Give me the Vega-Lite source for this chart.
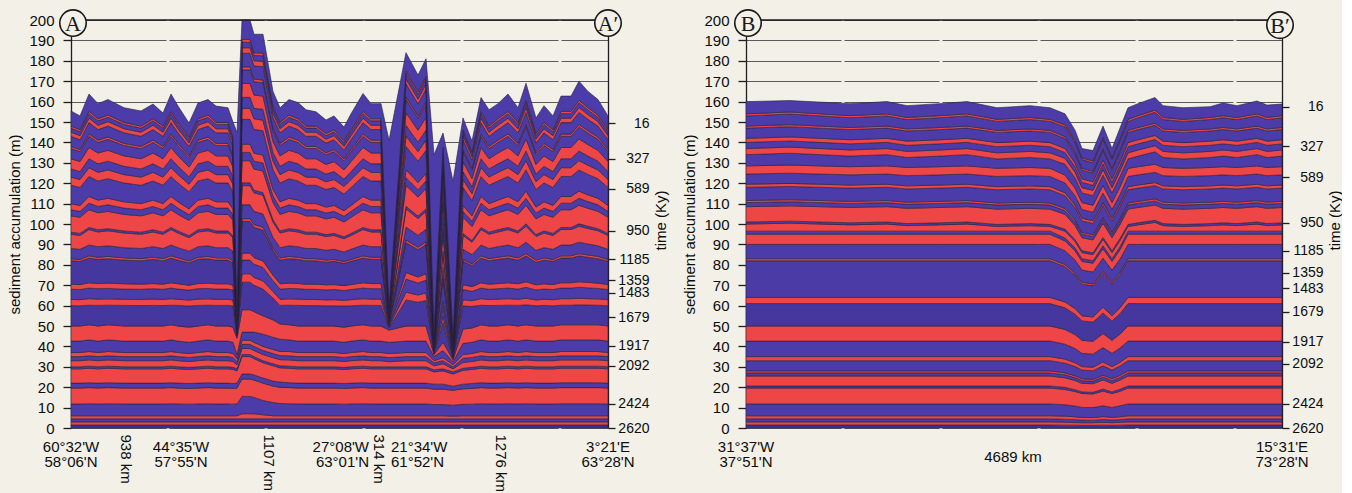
{
  "$schema": "https://vega.github.io/schema/vega-lite/v6.json",
  "background": "#f2f0e7",
  "padding": {"left": 7, "top": 6, "right": 0, "bottom": 0},
  "config": {
    "view": {"stroke": null},
    "font": "Liberation Sans",
    "axis": {"labelFont": "Liberation Sans", "titleFont": "Liberation Sans", "labelFontSize": 15, "titleFontSize": 15, "titleFontWeight": "normal", "labelColor": "#0d0d0d", "titleColor": "#0d0d0d", "domainColor": "#1e1e1e", "tickColor": "#1e1e1e", "domainWidth": 1.3, "tickWidth": 1.3}
  },
  "datasets": {
    "A": [
      {"x":0,"h":[0,1.5,3,4.5,6,11.8,19.6,22,29,30,33,35,37,42.6,50,60,63,68,70.5,82,83,88,95,96,104,107,110,119,123,127,132,137,138,143,145,147,148,155.4]},
      {"x":9,"h":[0,1.5,3,4.5,6,11.8,19.6,22,29,30,33,35,37,42.6,50,59.9,62.9,67.9,70.3,81.7,82.6,87.6,94.4,95.4,103.3,106.2,109.1,117.9,121.8,125.7,130.6,135.5,136.5,141.3,143.3,145.2,146.2,153]},
      {"x":18,"h":[0,1.5,3,4.5,6,11.9,19.8,22.2,29.3,30.3,33.4,35.4,37.5,43.2,50.6,60.2,63.4,68.6,71.2,83.3,84.4,89.7,97.3,98.3,107,110.2,113.5,123.3,127.6,132,137.5,143,144.1,149.7,151.9,154.1,155.2,163.7]},
      {"x":27,"h":[0,1.5,3,4.5,6,11.8,19.6,22,29,30,33,35,37,42.6,50,60.1,63.2,68.3,70.8,82.7,83.7,88.9,96.1,97.2,105.5,108.6,111.7,121.1,125.3,129.5,134.8,140,141.1,146.3,148.4,150.6,151.6,159]},
      {"x":37,"h":[0,1.5,3,4.5,6,11.9,19.8,22.2,29.3,30.3,33.4,35.4,37.5,43.2,50.6,60.2,63.3,68.4,71,83,84.1,89.3,96.7,97.7,106.2,109.4,112.6,122.2,126.5,130.8,136.1,141.5,142.6,148,150.2,152.3,153.4,161]},
      {"x":53,"h":[0,1.5,3,4.5,6,11.8,19.6,22,29,30,33,35,37,42.6,50,60.1,63.1,68.1,70.7,82.3,83.4,88.4,95.6,96.6,104.7,107.8,110.9,120.1,124.2,128.3,133.4,138.5,139.5,144.7,146.7,148.8,149.8,157]},
      {"x":70,"h":[0,1.5,3,4.5,6,11.8,19.6,22,29,30,33,35,37,42.6,50,60,63,68,70.5,82,83,88,95,96,104,107,110,119,123,127,132,137,138,143,145,147,148,155.4]},
      {"x":82,"h":[0,1.5,3,4.5,6,11.8,19.6,22,29,30,33,35,37,42.6,50,60.1,63.2,68.3,70.8,82.7,83.7,88.9,96.1,97.2,105.5,108.6,111.7,121.1,125.3,129.5,134.8,140,141.1,146.3,148.4,150.6,151.6,158.8]},
      {"x":92,"h":[0,1.5,3,4.5,6,11.8,19.6,22,29,30,33,35,37,42.6,50,60,63,68,70.5,82,83,88,95,96,104,107,110,119,123,127,132,137,138,143,145,147,148,154.4]},
      {"x":100,"h":[0,1.5,3,4.5,6,11.9,19.8,22.2,29.3,30.3,33.4,35.4,37.5,43.2,50.6,60.2,63.4,68.6,71.2,83.3,84.4,89.7,97.3,98.3,107,110.2,113.5,123.3,127.6,132,137.5,143,144.1,149.7,151.9,154.1,155.2,163.7]},
      {"x":107,"h":[0,1.5,3,4.5,6,11.8,19.6,22,29,30,33,35,37,42.6,50,60.1,63.1,68.1,70.7,82.3,83.4,88.4,95.6,96.6,104.7,107.8,110.9,120.1,124.2,128.3,133.4,138.5,139.5,144.7,146.7,148.8,149.8,157.8]},
      {"x":118,"h":[0,1.5,3,4.5,6,11.7,19.4,21.8,28.7,29.7,32.6,34.6,36.5,42,49.4,59.8,62.7,67.6,70,81,81.9,86.7,93.3,94.3,101.8,104.6,107.4,115.8,119.5,123.2,127.9,132.5,133.4,138,139.8,141.7,142.6,149.5]},
      {"x":127,"h":[0,1.5,3,4.5,6,11.8,19.6,22,29,30,33,35,37,42.6,50,60.1,63.2,68.3,70.8,82.7,83.7,88.9,96.1,97.2,105.5,108.6,111.7,121.1,125.3,129.5,134.8,140,141.1,146.3,148.4,150.6,151.6,159.3]},
      {"x":137,"h":[0,1.5,3,4.5,6,11.9,19.8,22.2,29.3,30.3,33.4,35.4,37.5,43.2,50.6,60.2,63.3,68.4,71,83,84.1,89.3,96.7,97.7,106.2,109.4,112.6,122.2,126.5,130.8,136.1,141.5,142.6,148,150.2,152.3,153.4,161]},
      {"x":145,"h":[0,1.5,3,4.5,6,11.8,19.6,22,29,30,33,35,37,42.6,50,60.1,63.1,68.1,70.7,82.3,83.4,88.4,95.6,96.6,104.7,107.8,110.9,120.1,124.2,128.3,133.4,138.5,139.5,144.7,146.7,148.8,149.8,157.8]},
      {"x":157,"h":[0,1.5,3,4.5,6,11.8,19.6,22,29,30,33,35,37,42.6,50,60.1,63.1,68.1,70.7,82.3,83.4,88.4,95.6,96.6,104.7,107.8,110.9,120.1,124.2,128.3,133.4,138.5,139.5,144.7,146.7,148.8,149.8,157]},
      {"x":162,"h":[0,1.5,3,4.5,6,11.7,19.4,21.8,28.7,29.7,32.6,34.6,36.5,42,49.4,59.8,62.7,67.6,70,81,81.9,86.7,93.3,94.3,101.8,104.6,107.4,115.8,119.5,123.2,127.9,132.5,133.4,138,139.8,141.7,142.6,150]},
      {"x":166,"h":[0,1.5,3,4.5,6,11.8,19.6,22,28,29,31,32.5,34,36,44,45,45.5,46,46.5,47,47.5,48,48.5,49,49.5,50,50.5,51,51.5,52,52.5,53,53.5,54,54.5,55,55.5,145]},
      {"x":171,"h":[0,1.5,3,4.5,7,15.5,24,26.5,35,36,39,41,43,47,58,71.5,75.6,82.3,85.7,101.3,102.6,109.4,118.8,120.2,131,135.1,139.1,151.3,156.7,162.1,168.9,175.6,177,183.7,186.4,189.1,190.5,200]},
      {"x":179,"h":[0,1.5,3,4.5,7,15.5,24,26.5,35,36,39,41,43,47,58,71.5,75.6,82.3,85.7,101.3,102.6,109.4,118.8,120.2,131,135.1,139.1,151.3,156.7,162.1,168.9,175.6,177,183.7,186.4,189.1,190.5,200]},
      {"x":183,"h":[0,1.5,3,4.5,7,15,23.5,26,34,35,38,40,42,47,57,70,73.8,80.3,83.5,98.4,99.7,106.2,115.3,116.6,126.9,130.8,134.7,146.4,151.6,156.7,163.2,169.7,171,177.4,180,182.6,183.9,193]},
      {"x":192,"h":[0,1.5,3,4.5,6.5,13.5,22,24.5,32,33,36,38,40,46,55,68.1,72.1,78.7,81.9,97,98.4,104.9,114.1,115.4,126,129.9,133.8,145.7,150.9,156.2,162.7,169.3,170.6,177.2,179.8,182.5,183.8,193]},
      {"x":202,"h":[0,1.5,3,4.5,6,12.5,20.5,23,30.5,31.5,34.5,36.5,38.5,44.5,53,63.7,66.9,72.2,74.9,87.1,88.2,93.5,101,102.1,110.6,113.8,117,126.6,130.9,135.1,140.5,145.8,146.9,152.2,154.3,156.5,157.5,165]},
      {"x":209,"h":[0,1.5,3,4.5,6,12,20,22.5,29.5,30.5,33.5,35.5,37.5,43.5,51,60.1,63.1,68.1,70.7,82.3,83.4,88.4,95.6,96.6,104.7,107.8,110.9,120.1,124.2,128.3,133.4,138.5,139.5,144.7,146.7,148.8,149.8,157]},
      {"x":218,"h":[0,1.5,3,4.5,6,11.9,19.8,22.2,29.3,30.3,33.4,35.4,37.5,43.2,50.6,60.2,63.3,68.4,71,83,84.1,89.3,96.7,97.7,106.2,109.4,112.6,122.2,126.5,130.8,136.1,141.5,142.6,148,150.2,152.3,153.4,161]},
      {"x":227,"h":[0,1.5,3,4.5,6,11.8,19.6,22,29,30,33,35,37,42.6,50,60.1,63.2,68.3,70.8,82.7,83.7,88.9,96.1,97.2,105.5,108.6,111.7,121.1,125.3,129.5,134.8,140,141.1,146.3,148.4,150.6,151.6,159.5]},
      {"x":235,"h":[0,1.5,3,4.5,6,11.8,19.6,22,29,30,33,35,37,42.6,50,60,63,68,70.5,82,83,88,95,96,104,107,110,119,123,127,132,137,138,143,145,147,148,156]},
      {"x":245,"h":[0,1.5,3,4.5,6,11.8,19.6,22,29,30,33,35,37,42.6,50,60,63,68,70.5,82,83,88,95,96,104,107,110,119,123,127,132,137,138,143,145,147,148,155]},
      {"x":255,"h":[0,1.5,3,4.5,6,11.8,19.6,22,29,30,33,35,37,42.6,50,59.9,62.8,67.7,70.2,81.3,82.3,87.1,93.9,94.8,102.5,105.4,108.3,116.9,120.7,124.5,129.2,134,134.9,139.7,141.6,143.4,144.4,151]},
      {"x":263,"h":[0,1.5,3,4.5,6,11.8,19.6,22,29,30,33,35,37,42.6,50,59.9,62.9,67.9,70.3,81.7,82.6,87.6,94.4,95.4,103.3,106.2,109.1,117.9,121.8,125.7,130.6,135.5,136.5,141.3,143.3,145.2,146.2,153]},
      {"x":273,"h":[0,1.5,3,4.5,6,11.7,19.4,21.8,28.7,29.7,32.6,34.6,36.5,42,49.4,59.8,62.6,67.4,69.8,80.7,81.6,86.3,92.8,93.7,101,103.8,106.5,114.7,118.4,122,126.5,131,131.9,136.3,138.1,139.9,140.8,147.5]},
      {"x":280,"h":[0,1.5,3,4.5,6,11.8,19.6,22,29,30,33,35,37,42.6,50,59.9,62.9,67.9,70.3,81.7,82.6,87.6,94.4,95.4,103.3,106.2,109.1,117.9,121.8,125.7,130.6,135.5,136.5,141.3,143.3,145.2,146.2,154]},
      {"x":292,"h":[0,1.5,3,4.5,6,11.9,19.8,22.2,29.3,30.3,33.4,35.4,37.5,43.2,50.6,60.2,63.4,68.6,71.2,83.3,84.4,89.7,97.3,98.3,107,110.2,113.5,123.3,127.6,132,137.5,143,144.1,149.7,151.9,154.1,155.2,164]},
      {"x":300,"h":[0,1.5,3,4.5,6,11.8,19.6,22,29,30,33,35,37,42.6,50,60.1,63.2,68.3,70.8,82.7,83.7,88.9,96.1,97.2,105.5,108.6,111.7,121.1,125.3,129.5,134.8,140,141.1,146.3,148.4,150.6,151.6,159]},
      {"x":310,"h":[0,1.5,3,4.5,6,11.8,19.6,22,29,30,33,35,37,42.6,50,60.1,63.2,68.3,70.8,82.7,83.7,88.9,96.1,97.2,105.5,108.6,111.7,121.1,125.3,129.5,134.8,140,141.1,146.3,148.4,150.6,151.6,159]},
      {"x":318,"h":[0,1.5,3,4.5,6,11.8,19.6,22,29,30,32.5,34.5,36.5,42,48,49,49.5,50,50.5,51,51.5,52,52.5,53,53.5,54,54.5,55,55.5,56,56.5,57,57.5,58,58.5,59,59.5,141]},
      {"x":335,"h":[0,1.5,3,4.5,6,11.8,19.6,22,29,30,33,35,37,42.6,50,62.8,66.6,73,76.2,90.8,92.1,98.5,107.4,108.7,118.9,122.7,126.6,138,143.1,148.3,154.6,161,162.3,168.7,171.2,173.8,175,184]},
      {"x":347,"h":[0,1.5,3,4.5,6,11.8,19.6,22,29,30,33,35,37,42.6,50,61.7,65.2,71.1,74,87.5,88.6,94.5,102.7,103.9,113.2,116.8,120.3,130.8,135.5,140.2,146,151.9,153,158.9,161.2,163.6,164.8,173]},
      {"x":355,"h":[0,1.5,3,4.5,6,11.8,19.6,22,29,30,33,35,37,42.6,50,62.5,66.2,72.5,75.6,89.9,91.2,97.4,106.2,107.4,117.4,121.1,124.9,136.1,141.1,146.1,152.3,158.6,159.8,166.1,168.6,171.1,172.3,181]},
      {"x":363,"h":[0,1.5,3,4.5,6,11.5,19,21.5,27.5,28.5,30.5,32,33,35,36,36.5,37,37.5,38,38.5,39,39.5,40,40.5,41,41.5,42,42.5,43,43.5,44,44.5,45,45.5,46,46.5,47,134]},
      {"x":372,"h":[0,1.5,3,4.5,6,11.5,19,21.5,28,29,31.5,33,34.5,38,42,51.8,54.7,59.6,62,73.3,74.2,79.1,86,86.9,94.8,97.7,100.6,109.4,113.3,117.2,122.1,127,128,132.8,134.8,136.7,137.7,144.6]},
      {"x":382,"h":[0,1.5,3,4.5,5.8,11.2,18.5,20.5,26.5,27.5,29,30,31,32.5,33.5,34,34.5,35,35.5,36,36.5,37,37.5,38,38.5,39,39.5,40,40.5,41,41.5,42,42.5,43,43.5,44,44.5,121]},
      {"x":392,"h":[0,1.5,3,4.5,6,11.6,19.2,21.5,28.3,29.3,32.2,34.2,36,41.5,48.5,59.9,62.9,67.9,70.3,81.7,82.6,87.6,94.4,95.4,103.3,106.2,109.1,117.9,121.8,125.7,130.6,135.5,136.5,141.3,143.3,145.2,146.2,152]},
      {"x":401,"h":[0,1.5,3,4.5,6,11.7,19.4,21.8,28.7,29.7,32.6,34.6,36.5,42,49,59.6,62.4,67,69.3,79.7,80.5,85,91.1,91.9,98.8,101.4,104,111.5,114.9,118.2,122.3,126.4,127.3,131.3,133,134.6,135.4,140.7]},
      {"x":410,"h":[0,1.5,3,4.5,6,11.9,19.8,22.2,29.3,30.3,33.4,35.4,37.5,43.2,50.6,60.2,63.4,68.6,71.2,83.3,84.4,89.7,97.3,98.3,107,110.2,113.5,123.3,127.6,132,137.5,143,144.1,149.7,151.9,154.1,155.2,162]},
      {"x":418,"h":[0,1.5,3,4.5,6,11.8,19.6,22,29,30,33,35,37,42.6,50,60,63,68,70.5,82,83,88,95,96,104,107,110,119,123,127,132,137,138,143,145,147,148,156]},
      {"x":427,"h":[0,1.5,3,4.5,6,11.8,19.6,22,29,30,33,35,37,42.6,50,60.1,63.2,68.3,70.8,82.7,83.7,88.9,96.1,97.2,105.5,108.6,111.7,121.1,125.3,129.5,134.8,140,141.1,146.3,148.4,150.6,151.6,159]},
      {"x":437,"h":[0,1.5,3,4.5,6,11.9,19.8,22.2,29.3,30.3,33.4,35.4,37.5,43.2,50.6,60.2,63.4,68.6,71.2,83.3,84.4,89.7,97.3,98.3,107,110.2,113.5,123.3,127.6,132,137.5,143,144.1,149.7,151.9,154.1,155.2,163.7]},
      {"x":447,"h":[0,1.5,3,4.5,6,11.8,19.6,22,29,30,33,35,37,42.6,50,60.1,63.1,68.1,70.7,82.3,83.4,88.4,95.6,96.6,104.7,107.8,110.9,120.1,124.2,128.3,133.4,138.5,139.5,144.7,146.7,148.8,149.8,157]},
      {"x":455,"h":[0,1.5,3,4.5,6,11.9,19.8,22.2,29.3,30.3,33.4,35.4,37.5,43.2,50.6,60.4,63.6,69,71.7,84.4,85.5,91.1,98.9,100.1,109.2,112.6,116.1,126.5,131.1,135.8,141.7,147.6,148.7,154.7,157.1,159.4,160.6,169]},
      {"x":465,"h":[0,1.5,3,4.5,6,11.8,19.6,22,29,30,33,35,37,42.6,50,59.9,62.8,67.7,70.2,81.3,82.3,87.1,93.9,94.8,102.5,105.4,108.3,116.9,120.7,124.5,129.2,134,134.9,139.7,141.6,143.4,144.4,152]},
      {"x":473,"h":[0,1.5,3,4.5,6,11.8,19.6,22,29,30,33,35,37,42.6,50,60.1,63.1,68.1,70.7,82.3,83.4,88.4,95.6,96.6,104.7,107.8,110.9,120.1,124.2,128.3,133.4,138.5,139.5,144.7,146.7,148.8,149.8,158]},
      {"x":482,"h":[0,1.5,3,4.5,6,11.8,19.6,22,29,30,33,35,37,42.6,50,59.9,62.9,67.9,70.3,81.7,82.6,87.6,94.4,95.4,103.3,106.2,109.1,117.9,121.8,125.7,130.6,135.5,136.5,141.3,143.3,145.2,146.2,153]},
      {"x":490,"h":[0,1.5,3,4.5,6,11.9,19.8,22.2,29.3,30.3,33.4,35.4,37.5,43.2,50.6,60.2,63.4,68.6,71.2,83.3,84.4,89.7,97.3,98.3,107,110.2,113.5,123.3,127.6,132,137.5,143,144.1,149.7,151.9,154.1,155.2,162.7]},
      {"x":500,"h":[0,1.5,3,4.5,6,11.9,19.8,22.2,29.3,30.3,33.4,35.4,37.5,43.2,50.6,60.2,63.4,68.6,71.2,83.3,84.4,89.7,97.3,98.3,107,110.2,113.5,123.3,127.6,132,137.5,143,144.1,149.7,151.9,154.1,155.2,162.7]},
      {"x":508,"h":[0,1.5,3,4.5,6,11.9,19.8,22.2,29.3,30.3,33.4,35.4,37.5,43.2,50.6,60.4,63.6,69,71.7,84.4,85.5,91.1,98.9,100.1,109.2,112.6,116.1,126.5,131.1,135.8,141.7,147.6,148.7,154.7,157.1,159.4,160.6,170]},
      {"x":517,"h":[0,1.5,3,4.5,6,11.9,19.8,22.2,29.3,30.3,33.4,35.4,37.5,43.2,50.6,60.3,63.4,68.7,71.4,83.7,84.8,90.2,97.8,98.9,107.7,111,114.3,124.3,128.8,133.3,138.9,144.6,145.7,151.3,153.6,155.9,157,165]},
      {"x":527,"h":[0,1.5,3,4.5,6,11.9,19.8,22.2,29.3,30.3,33.4,35.4,37.5,43.2,50.6,60.2,63.3,68.4,71,83,84.1,89.3,96.7,97.7,106.2,109.4,112.6,122.2,126.5,130.8,136.1,141.5,142.6,148,150.2,152.3,153.4,161]},
      {"x":537,"h":[0,1.5,3,4.5,6,11.8,19.6,22,29,30,33,35,37,42.6,50,59.9,62.9,67.9,70.3,81.7,82.6,87.6,94.4,95.4,103.3,106.2,109.1,117.9,121.8,125.7,130.6,135.5,136.5,141.3,143.3,145.2,146.2,153]}
    ],
    "B": [
      {"x":0,"h":[0,1.5,3,4.5,6,11.8,19.6,20.6,25.5,27,28,33,35,42.6,50,61,64,82,83,90,95,96.5,100,101,108.5,110.5,111.5,118,119.5,124.5,128.5,134,137,140,142,147,148,153,154,160]},
      {"x":44,"h":[0,1.5,3,4.5,6,11.8,19.6,20.6,25.5,27,28,33,35,42.6,50,61,64,82,83,90,95,96.5,100.4,101.4,108.9,110.9,111.9,118.4,119.9,124.9,128.9,134.7,137.7,140.7,142.7,147.7,148.7,153.9,154.9,160.5]},
      {"x":104,"h":[0,1.5,3,4.5,6,11.8,19.6,20.6,25.5,27,28,33,35,42.6,50,61,64,82,83,90,95,96.5,99.6,100.6,108.1,110.1,111.1,117.6,119.1,124.1,128.1,133.3,136.3,139.3,141.3,146.3,147.3,152.1,153.1,159]},
      {"x":141,"h":[0,1.5,3,4.5,6,11.8,19.6,20.6,25.5,27,28,33,35,42.6,50,61,64,82,83,90,95,96.5,100,101,108.5,110.5,111.5,118,119.5,124.5,128.5,134,137,140,142,147,148,153,154,160]},
      {"x":161,"h":[0,1.5,3,4.5,6,11.8,19.6,20.6,25.5,27,28,33,35,42.6,50,61,64,82,83,90,95,96.5,99.2,100.2,107.7,109.7,110.7,117.2,118.7,123.7,127.7,132.6,135.6,138.6,140.6,145.6,146.6,151.2,152.2,158]},
      {"x":194,"h":[0,1.5,3,4.5,6,11.8,19.6,20.6,25.5,27,28,33,35,42.6,50,61,64,82,83,90,95,96.5,99.6,100.6,108.1,110.1,111.1,117.6,119.1,124.1,128.1,133.3,136.3,139.3,141.3,146.3,147.3,152.1,153.1,159]},
      {"x":221,"h":[0,1.5,3,4.5,6,11.8,19.6,20.6,25.5,27,28,33,35,42.6,50,61,64,82,83,90,95,96.5,100,101,108.5,110.5,111.5,118,119.5,124.5,128.5,134,137,140,142,147,148,153,154,160]},
      {"x":251,"h":[0,1.5,3,4.5,6,11.8,19.6,20.6,25.5,27,28,33,35,42.6,50,61,64,82,83,90,95,96.5,98.8,99.8,107.3,109.3,110.3,116.8,118.3,123.3,127.3,131.9,134.9,137.9,139.9,144.9,145.9,150.3,151.3,157]},
      {"x":284,"h":[0,1.5,3,4.5,6,11.8,19.6,20.6,25.5,27,28,33,35,42.6,50,61,64,82,83,90,95,96.5,99.2,100.2,107.7,109.7,110.7,117.2,118.7,123.7,127.7,132.6,135.6,138.6,140.6,145.6,146.6,151.2,152.2,158]},
      {"x":304,"h":[0,1.5,3,4.5,6,11.8,19.6,20.6,25.5,27,28,33,35,42.6,50,61,64,82,83,90,95,96.5,98.8,99.8,107.3,109.3,110.3,116.8,118.3,123.3,127.3,131.9,134.9,137.9,139.9,144.9,145.9,150.3,151.3,157]},
      {"x":319,"h":[0,1.4,2.9,4.3,5.8,11.4,18.9,19.9,24.6,26.1,27,31.8,33.8,41.1,48.3,58.9,61.8,79.1,80.1,86.9,91.7,93.1,96.5,97.5,104.7,106.6,107.6,113.9,115.3,120.1,124,129.3,132.2,135.1,137,141.9,142.8,147.6,148.6,154]},
      {"x":329,"h":[0,1.4,2.7,4.1,5.5,10.8,17.9,18.8,23.3,24.7,25.6,30.2,32,39,45.8,55.8,58.6,75,75.9,82.4,86.9,88.3,91.5,92.4,99.3,101.1,102,108,109.3,113.9,117.6,122.6,125.4,128.1,129.9,134.5,135.4,140,140.9,146]},
      {"x":336,"h":[0,1.3,2.6,3.9,5.2,10.1,16.9,17.7,21.9,23.2,24.1,28.4,30.1,36.6,43,52.5,55,70.5,71.4,77.4,81.7,83,86,86.9,93.3,95,95.9,101.5,102.8,107.1,110.5,115.2,117.8,120.4,122.1,126.4,127.3,131.6,132.4,137]},
      {"x":347,"h":[0,1.3,2.6,3.8,5.1,10,16.7,17.5,21.7,23,23.8,28.1,29.8,36.2,42.5,51.9,54.4,69.7,70.6,76.5,80.8,82,85,85.9,92.2,93.9,94.8,100.3,101.6,105.8,109.2,113.9,116.5,119,120.7,125,125.8,130,130.9,136]},
      {"x":357,"h":[0,1.4,2.8,4.2,5.6,10.9,18.1,19.1,23.6,25,25.9,30.5,32.4,39.4,46.3,56.4,59.2,75.9,76.8,83.3,87.9,89.3,92.5,93.4,100.4,102.2,103.1,109.2,110.5,115.2,118.9,124,126.7,129.5,131.4,136,136.9,141.5,142.5,148]},
      {"x":366,"h":[0,1.3,2.6,3.9,5.2,10.1,16.9,17.7,21.9,23.2,24.1,28.4,30.1,36.6,43,52.5,55,70.5,71.4,77.4,81.7,83,86,86.9,93.3,95,95.9,101.5,102.8,107.1,110.5,115.2,117.8,120.4,122.1,126.4,127.3,131.6,132.4,137]},
      {"x":374,"h":[0,1.4,2.8,4.1,5.5,10.9,18,19,23.5,24.8,25.8,30.4,32.2,39.2,46,56.1,58.9,75.4,76.4,82.8,87.4,88.8,92,92.9,99.8,101.7,102.6,108.6,109.9,114.5,118.2,123.3,126,128.8,130.6,135.2,136.2,140.8,141.7,147]},
      {"x":382,"h":[0,1.5,3,4.5,6,11.8,19.6,20.6,25.5,27,28,33,35,42.6,50,61,64,82,83,90,95,96.5,98.8,99.8,107.3,109.3,110.3,116.8,118.3,123.3,127.3,131.9,134.9,137.9,139.9,144.9,145.9,150.3,151.3,157]},
      {"x":392,"h":[0,1.5,3,4.5,6,11.8,19.6,20.6,25.5,27,28,33,35,42.6,50,61,64,82,83,90,95,96.5,99.6,100.6,108.1,110.1,111.1,117.6,119.1,124.1,128.1,133.3,136.3,139.3,141.3,146.3,147.3,152.1,153.1,159]},
      {"x":409,"h":[0,1.5,3,4.5,6,11.8,19.6,20.6,25.5,27,28,33,35,42.6,50,61,64,82,83,90,95,96.5,100.8,101.8,109.3,111.3,112.3,118.8,120.3,125.3,129.3,135.4,138.4,141.4,143.4,148.4,149.4,154.8,155.8,162]},
      {"x":417,"h":[0,1.5,3,4.5,6,11.8,19.6,20.6,25.5,27,28,33,35,42.6,50,61,64,82,83,90,95,96.5,99.2,100.2,107.7,109.7,110.7,117.2,118.7,123.7,127.7,132.6,135.6,138.6,140.6,145.6,146.6,151.2,152.2,158]},
      {"x":437,"h":[0,1.5,3,4.5,6,11.8,19.6,20.6,25.5,27,28,33,35,42.6,50,61,64,82,83,90,95,96.5,98.8,99.8,107.3,109.3,110.3,116.8,118.3,123.3,127.3,131.9,134.9,137.9,139.9,144.9,145.9,150.3,151.3,157]},
      {"x":464,"h":[0,1.5,3,4.5,6,11.8,19.6,20.6,25.5,27,28,33,35,42.6,50,61,64,82,83,90,95,96.5,99.2,100.2,107.7,109.7,110.7,117.2,118.7,123.7,127.7,132.6,135.6,138.6,140.6,145.6,146.6,151.2,152.2,157.5]},
      {"x":477,"h":[0,1.5,3,4.5,6,11.8,19.6,20.6,25.5,27,28,33,35,42.6,50,61,64,82,83,90,95,96.5,99.6,100.6,108.1,110.1,111.1,117.6,119.1,124.1,128.1,133.3,136.3,139.3,141.3,146.3,147.3,152.1,153.1,159.3]},
      {"x":491,"h":[0,1.5,3,4.5,6,11.8,19.6,20.6,25.5,27,28,33,35,42.6,50,61,64,82,83,90,95,96.5,99.2,100.2,107.7,109.7,110.7,117.2,118.7,123.7,127.7,132.6,135.6,138.6,140.6,145.6,146.6,151.2,152.2,158]},
      {"x":511,"h":[0,1.5,3,4.5,6,11.8,19.6,20.6,25.5,27,28,33,35,42.6,50,61,64,82,83,90,95,96.5,100,101,108.5,110.5,111.5,118,119.5,124.5,128.5,134,137,140,142,147,148,153,154,160.3]},
      {"x":521,"h":[0,1.5,3,4.5,6,11.8,19.6,20.6,25.5,27,28,33,35,42.6,50,61,64,82,83,90,95,96.5,99.2,100.2,107.7,109.7,110.7,117.2,118.7,123.7,127.7,132.6,135.6,138.6,140.6,145.6,146.6,151.2,152.2,158.3]},
      {"x":536,"h":[0,1.5,3,4.5,6,11.8,19.6,20.6,25.5,27,28,33,35,42.6,50,61,64,82,83,90,95,96.5,99.6,100.6,108.1,110.1,111.1,117.6,119.1,124.1,128.1,133.3,136.3,139.3,141.3,146.3,147.3,152.1,153.1,158.8]}
    ]
  },
  "spacing": 14,
  "resolve": {"scale": {"x": "independent", "y": "independent", "color": "independent"}},
  "hconcat": [
    {
      "width": 537,
      "height": 408,
      "resolve": {"axis": {"y": "independent"}},
      "layer": [
        {
          "data": {"name": "A"},
          "transform": [
            {"flatten": ["h"]},
            {"window": [{"op": "row_number", "as": "i"}, {"op": "lag", "field": "h", "param": 1, "as": "h0"}], "groupby": ["x"]},
            {"filter": {"field": "h0", "valid": true}}
          ],
          "mark": {"type": "area", "stroke": "#2a2340", "strokeWidth": 0.7, "strokeOpacity": 0.9, "strokeJoin": "round", "interpolate": "linear"},
          "encoding": {
            "x": {"field": "x", "type": "quantitative", "scale": {"domain": [0, 537], "nice": false, "zero": false},
                  "axis": {"values": [0, 110, 292, 327, 537], "labels": false, "ticks": true, "tickSize": 6, "grid": false, "title": null, "domain": true}},
            "y": {"field": "h", "type": "quantitative", "scale": {"domain": [0, 200], "nice": false},
                  "axis": {"orient": "left", "values": [0,10,20,30,40,50,60,70,80,90,100,110,120,130,140,150,160,170,180,190,200], "grid": true, "gridDash": [95, 3], "gridColor": "#5a5a5a", "gridWidth": 1, "tickSize": 8, "labelPadding": 9, "labelOverlap": false, "labelFlush": false, "title": "sediment accumulation (m)", "titlePadding": 6}},
            "y2": {"field": "h0"},
            "color": {"field": "i", "type": "ordinal", "legend": null,
                      "scale": {"domain": [2,3,4,5,6,7,8,9,10,11,12,13,14,15,16,17,18,19,20,21,22,23,24,25,26,27,28,29,30,31,32,33,34,35,36,37,38],
                                "range": ["#3f3290","#ee4646","#4b3ca9","#ee4646","#4b3ca9","#ee4646","#4b3ca9","#ee4646","#4b3ca9","#ee4646","#4b3ca9","#ee4646","#4b3ca9","#ee4646","#45379e","#ee4646","#4b3ca9","#ee4646","#45379e","#ee4646","#4b3ca9","#ee4646","#4b3ca9","#ee4646","#4b3ca9","#ee4646","#4b3ca9","#ee4646","#4b3ca9","#ee4646","#4b3ca9","#ee4646","#4b3ca9","#ee4646","#4b3ca9","#ee4646","#4b3ca9"]}}
          }
        },
        {
          "data": {"values": [{"m":149.5,"k":"16"},{"m":131.9,"k":"327"},{"m":117.2,"k":"589"},{"m":96.6,"k":"950"},{"m":82.8,"k":"1185"},{"m":72.5,"k":"1359"},{"m":66.2,"k":"1483"},{"m":54.4,"k":"1679"},{"m":40.2,"k":"1917"},{"m":30.4,"k":"2092"},{"m":11.8,"k":"2424"},{"m":0,"k":"2620"}]},
          "mark": {"type": "tick", "opacity": 0},
          "encoding": {
            "y": {"field": "m", "type": "quantitative", "scale": {"domain": [0, 200], "nice": false},
                  "axis": {"orient": "right", "values": [149.5,131.9,117.2,96.6,82.8,72.5,66.2,54.4,40.2,30.4,11.8,0],
                           "labelExpr": "datum.value==149.5?'16':datum.value==131.9?'327':datum.value==117.2?'589':datum.value==96.6?'950':datum.value==82.8?'1185':datum.value==72.5?'1359':datum.value==66.2?'1483':datum.value==54.4?'1679':datum.value==40.2?'1917':datum.value==30.4?'2092':datum.value==11.8?'2424':'2620'",
                           "tickSize": 7, "labelFontSize": 14, "labelAlign": "right", "labelPadding": 34, "labelOverlap": false, "labelFlush": false, "grid": false, "title": "time (Ky)", "titleAngle": 270, "titleX": 52, "titleY": 200, "titleAlign": "center", "titleBaseline": "middle"}}
          }
        },
        {
          "data": {"values": [{"y": 200}]},
          "mark": {"type": "rule", "color": "#1a1a1a", "strokeWidth": 1.6},
          "encoding": {"y": {"field": "y", "type": "quantitative", "scale": {"domain": [0, 200], "nice": false}, "axis": null}}
        },
        {
          "data": {"values": [{"x": 2, "y": 198.5, "t": "A"}, {"x": 537, "y": 198.5, "t": "A′"}]},
          "mark": {"type": "point", "shape": "circle", "size": 700, "filled": true, "fill": "#f2f0e7", "stroke": "#1a1a1a", "strokeWidth": 1.6, "opacity": 1},
          "encoding": {
            "x": {"field": "x", "type": "quantitative", "scale": {"domain": [0, 537], "nice": false, "zero": false}, "axis": null},
            "y": {"field": "y", "type": "quantitative", "scale": {"domain": [0, 200], "nice": false}, "axis": null}
          }
        },
        {
          "data": {"values": [{"x": 2, "y": 198.5, "t": "A"}, {"x": 537, "y": 198.5, "t": "A′"}]},
          "mark": {"type": "text", "font": "Liberation Serif", "fontSize": 22, "align": "center", "baseline": "middle", "dy": 1, "color": "#1a1a1a"},
          "encoding": {
            "x": {"field": "x", "type": "quantitative", "scale": {"domain": [0, 537], "nice": false, "zero": false}, "axis": null},
            "y": {"field": "y", "type": "quantitative", "scale": {"domain": [0, 200], "nice": false}, "axis": null},
            "text": {"field": "t"}
          }
        },
        {
          "data": {"values": [{"x": 0, "y": -5.8, "t": "60°32'W\n58°06'N"}, {"x": 110, "y": -5.8, "t": "44°35'W\n57°55'N"}, {"x": 537, "y": -5.8, "t": "3°21'E\n63°28'N"}]},
          "mark": {"type": "text", "align": "center", "baseline": "top", "lineBreak": "\n", "lineHeight": 15, "fontSize": 15, "font": "Liberation Sans", "color": "#0d0d0d"},
          "encoding": {
            "x": {"field": "x", "type": "quantitative", "scale": {"domain": [0, 537], "nice": false, "zero": false}, "axis": null},
            "y": {"field": "y", "type": "quantitative", "scale": {"domain": [0, 200], "nice": false}, "axis": null},
            "text": {"field": "t"}
          }
        },
        {
          "data": {"values": [{"x": 298, "y": -5.8, "t": "27°08'W\n63°01'N"}]},
          "mark": {"type": "text", "align": "right", "baseline": "top", "lineBreak": "\n", "lineHeight": 15, "fontSize": 15, "font": "Liberation Sans", "color": "#0d0d0d"},
          "encoding": {
            "x": {"field": "x", "type": "quantitative", "scale": {"domain": [0, 537], "nice": false, "zero": false}, "axis": null},
            "y": {"field": "y", "type": "quantitative", "scale": {"domain": [0, 200], "nice": false}, "axis": null},
            "text": {"field": "t"}
          }
        },
        {
          "data": {"values": [{"x": 320, "y": -5.8, "t": "21°34'W\n61°52'N"}]},
          "mark": {"type": "text", "align": "left", "baseline": "top", "lineBreak": "\n", "lineHeight": 15, "fontSize": 15, "font": "Liberation Sans", "color": "#0d0d0d"},
          "encoding": {
            "x": {"field": "x", "type": "quantitative", "scale": {"domain": [0, 537], "nice": false, "zero": false}, "axis": null},
            "y": {"field": "y", "type": "quantitative", "scale": {"domain": [0, 200], "nice": false}, "axis": null},
            "text": {"field": "t"}
          }
        },
        {
          "data": {"values": [{"x": 55, "y": -3.2, "t": "938 km"}, {"x": 198, "y": -3.2, "t": "1107 km"}, {"x": 308, "y": -3.2, "t": "314 km"}, {"x": 430, "y": -3.2, "t": "1276 km"}]},
          "mark": {"type": "text", "angle": 90, "align": "left", "baseline": "middle", "fontSize": 15, "font": "Liberation Sans", "color": "#0d0d0d"},
          "encoding": {
            "x": {"field": "x", "type": "quantitative", "scale": {"domain": [0, 537], "nice": false, "zero": false}, "axis": null},
            "y": {"field": "y", "type": "quantitative", "scale": {"domain": [0, 200], "nice": false}, "axis": null},
            "text": {"field": "t"}
          }
        }
      ]
    },
    {
      "width": 536,
      "height": 408,
      "resolve": {"axis": {"y": "independent"}},
      "layer": [
        {
          "data": {"name": "B"},
          "transform": [
            {"flatten": ["h"]},
            {"window": [{"op": "row_number", "as": "i"}, {"op": "lag", "field": "h", "param": 1, "as": "h0"}], "groupby": ["x"]},
            {"filter": {"field": "h0", "valid": true}}
          ],
          "mark": {"type": "area", "stroke": "#2a2340", "strokeWidth": 0.7, "strokeOpacity": 0.9, "strokeJoin": "round", "interpolate": "linear"},
          "encoding": {
            "x": {"field": "x", "type": "quantitative", "scale": {"domain": [0, 536], "nice": false, "zero": false},
                  "axis": {"values": [0, 536], "labels": false, "ticks": true, "tickSize": 6, "grid": false, "title": null, "domain": true}},
            "y": {"field": "h", "type": "quantitative", "scale": {"domain": [0, 200], "nice": false},
                  "axis": {"orient": "left", "values": [0,10,20,30,40,50,60,70,80,90,100,110,120,130,140,150,160,170,180,190,200], "grid": true, "gridDash": [95, 3], "gridColor": "#5a5a5a", "gridWidth": 1, "tickSize": 8, "labelPadding": 9, "labelOverlap": false, "labelFlush": false, "title": "sediment accumulation (m)", "titlePadding": 6}},
            "y2": {"field": "h0"},
            "color": {"field": "i", "type": "ordinal", "legend": null,
                      "scale": {"domain": [2,3,4,5,6,7,8,9,10,11,12,13,14,15,16,17,18,19,20,21,22,23,24,25,26,27,28,29,30,31,32,33,34,35,36,37,38,39,40],
                                "range": ["#3f3290","#ee4646","#4b3ca9","#ee4646","#4b3ca9","#ee4646","#4b3ca9","#ee4646","#4b3ca9","#ee4646","#4b3ca9","#ee4646","#4b3ca9","#ee4646","#45379e","#ee4646","#4a3ba6","#ee4646","#4b3ca9","#ee4646","#4b3ca9","#ee4646","#4b3ca9","#ee4646","#4b3ca9","#ee4646","#4b3ca9","#ee4646","#4b3ca9","#ee4646","#4b3ca9","#ee4646","#4b3ca9","#ee4646","#4b3ca9","#ee4646","#4b3ca9","#ee4646","#4b3ca9"]}}
          }
        },
        {
          "data": {"values": [{"m":157.4,"k":"16"},{"m":138.2,"k":"327"},{"m":123,"k":"589"},{"m":100.5,"k":"950"},{"m":86.8,"k":"1185"},{"m":76,"k":"1359"},{"m":68.6,"k":"1483"},{"m":56.9,"k":"1679"},{"m":42.2,"k":"1917"},{"m":31.4,"k":"2092"},{"m":11.8,"k":"2424"},{"m":0,"k":"2620"}]},
          "mark": {"type": "tick", "opacity": 0},
          "encoding": {
            "y": {"field": "m", "type": "quantitative", "scale": {"domain": [0, 200], "nice": false},
                  "axis": {"orient": "right", "values": [157.4,138.2,123,100.5,86.8,76,68.6,56.9,42.2,31.4,11.8,0],
                           "labelExpr": "datum.value==157.4?'16':datum.value==138.2?'327':datum.value==123?'589':datum.value==100.5?'950':datum.value==86.8?'1185':datum.value==76?'1359':datum.value==68.6?'1483':datum.value==56.9?'1679':datum.value==42.2?'1917':datum.value==31.4?'2092':datum.value==11.8?'2424':'2620'",
                           "tickSize": 7, "labelFontSize": 14, "labelAlign": "right", "labelPadding": 34, "labelOverlap": false, "labelFlush": false, "grid": false, "title": "time (Ky)", "titleAngle": 270, "titleX": 52, "titleY": 200, "titleAlign": "center", "titleBaseline": "middle"}}
          }
        },
        {
          "data": {"values": [{"y": 200}]},
          "mark": {"type": "rule", "color": "#1a1a1a", "strokeWidth": 1.6},
          "encoding": {"y": {"field": "y", "type": "quantitative", "scale": {"domain": [0, 200], "nice": false}, "axis": null}}
        },
        {
          "data": {"values": [{"x": 2, "y": 198.5, "t": "B"}, {"x": 534, "y": 197.5, "t": "B′"}]},
          "mark": {"type": "point", "shape": "circle", "size": 700, "filled": true, "fill": "#f2f0e7", "stroke": "#1a1a1a", "strokeWidth": 1.6, "opacity": 1},
          "encoding": {
            "x": {"field": "x", "type": "quantitative", "scale": {"domain": [0, 536], "nice": false, "zero": false}, "axis": null},
            "y": {"field": "y", "type": "quantitative", "scale": {"domain": [0, 200], "nice": false}, "axis": null}
          }
        },
        {
          "data": {"values": [{"x": 2, "y": 198.5, "t": "B"}, {"x": 534, "y": 197.5, "t": "B′"}]},
          "mark": {"type": "text", "font": "Liberation Serif", "fontSize": 22, "align": "center", "baseline": "middle", "dy": 1, "color": "#1a1a1a"},
          "encoding": {
            "x": {"field": "x", "type": "quantitative", "scale": {"domain": [0, 536], "nice": false, "zero": false}, "axis": null},
            "y": {"field": "y", "type": "quantitative", "scale": {"domain": [0, 200], "nice": false}, "axis": null},
            "text": {"field": "t"}
          }
        },
        {
          "data": {"values": [{"x": 0, "y": -5.8, "t": "31°37'W\n37°51'N"}, {"x": 536, "y": -5.8, "t": "15°31'E\n73°28'N"}]},
          "mark": {"type": "text", "align": "center", "baseline": "top", "lineBreak": "\n", "lineHeight": 15, "fontSize": 15, "font": "Liberation Sans", "color": "#0d0d0d"},
          "encoding": {
            "x": {"field": "x", "type": "quantitative", "scale": {"domain": [0, 536], "nice": false, "zero": false}, "axis": null},
            "y": {"field": "y", "type": "quantitative", "scale": {"domain": [0, 200], "nice": false}, "axis": null},
            "text": {"field": "t"}
          }
        },
        {
          "data": {"values": [{"x": 267, "y": -14.2, "t": "4689 km"}]},
          "mark": {"type": "text", "align": "center", "baseline": "middle", "fontSize": 15, "font": "Liberation Sans", "color": "#0d0d0d"},
          "encoding": {
            "x": {"field": "x", "type": "quantitative", "scale": {"domain": [0, 536], "nice": false, "zero": false}, "axis": null},
            "y": {"field": "y", "type": "quantitative", "scale": {"domain": [0, 200], "nice": false}, "axis": null},
            "text": {"field": "t"}
          }
        }
      ]
    }
  ]
}
